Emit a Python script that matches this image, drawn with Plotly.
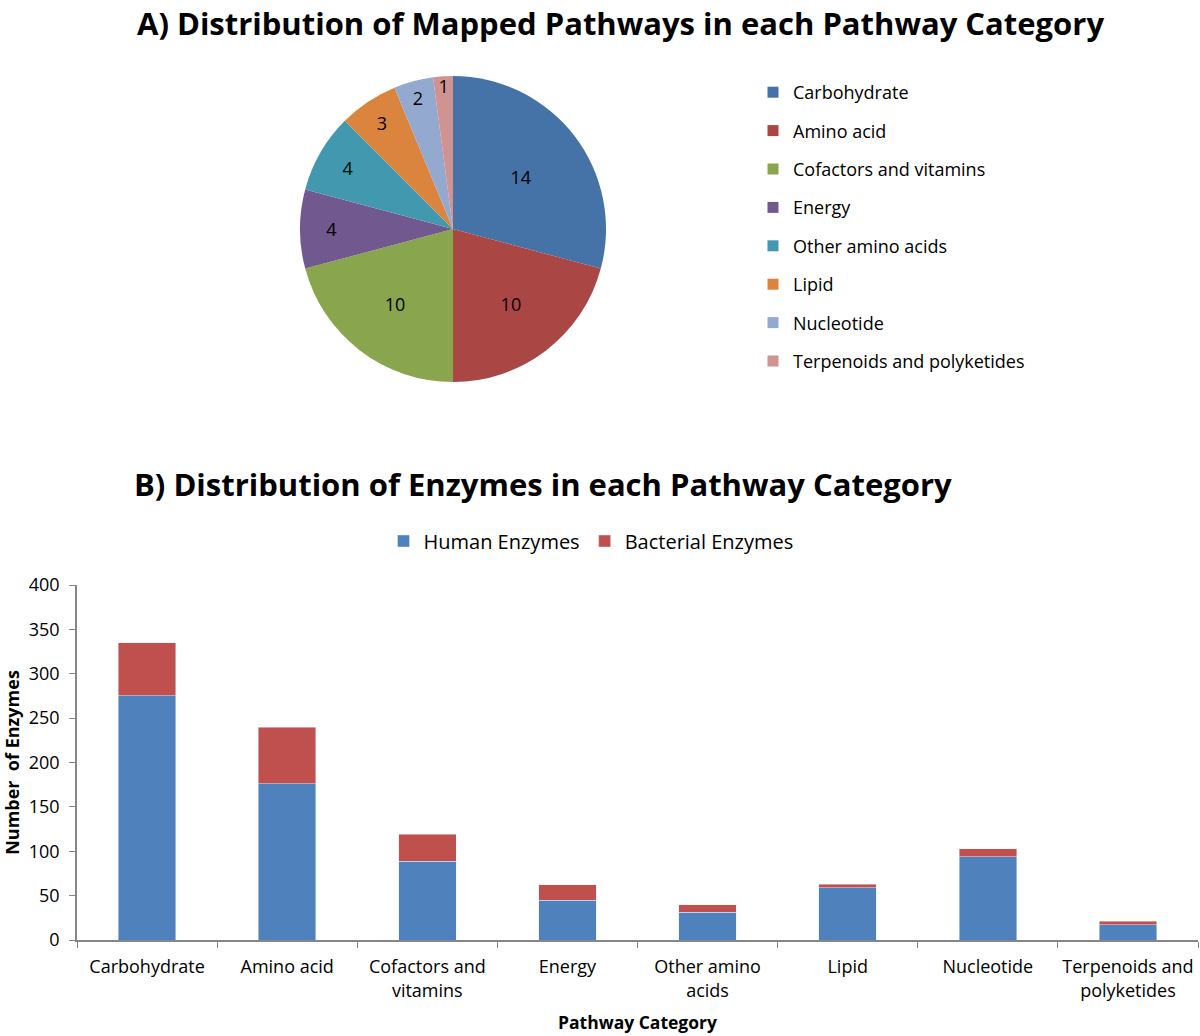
import plotly.graph_objects as go

# data
pie_labels = ["Carbohydrate", "Amino acid", "Cofactors and vitamins", "Energy",
              "Other amino acids", "Lipid", "Nucleotide", "Terpenoids and polyketides"]
pie_values = [14, 10, 10, 4, 4, 3, 2, 1]
pie_colors = ["#4572A7", "#AA4643", "#89A54E", "#71588F",
              "#4198AF", "#DB843D", "#93A9CF", "#D19392"]

bar_categories = ["Carbohydrate", "Amino acid", "Cofactors and<br>vitamins", "Energy",
                  "Other amino<br>acids", "Lipid", "Nucleotide", "Terpenoids and<br>polyketides"]
human_enzymes = [275, 176, 89, 45, 31, 59, 94, 17]
bacterial_enzymes = [60, 64, 30, 17, 9, 4, 9, 4]

FONT = "Open Sans"
W, H = 1200, 1036

fig = go.Figure()

# pie (A)
fig.add_trace(go.Pie(
    labels=pie_labels, values=pie_values, sort=False, direction="clockwise",
    rotation=0, marker=dict(colors=pie_colors, line=dict(width=0)),
    textinfo="value", textposition="inside", insidetextorientation="horizontal",
    textfont=dict(family=FONT, size=18, color="black"),
    domain=dict(x=[(453 - 153) / W, (453 + 153) / W], y=[1 - 382 / H, 1 - 76 / H]),
    showlegend=False, hoverinfo="label+value",
))

# legend entries for pie (separate groups so the spacing can be set)
for lab, col in zip(pie_labels, pie_colors):
    fig.add_trace(go.Scatter(
        x=[None], y=[None], mode="markers", name=lab, legendgroup=lab,
        marker=dict(symbol="square", size=11, color=col), legend="legend",
    ))

# stacked bars (B)
fig.add_trace(go.Bar(x=bar_categories, y=human_enzymes, name="Human Enzymes",
                     marker_color="#4F81BD", legend="legend2"))
fig.add_trace(go.Bar(x=bar_categories, y=bacterial_enzymes, name="Bacterial Enzymes",
                     marker_color="#C0504D", legend="legend2"))

axis_col = "#868686"
fig.update_layout(
    width=W, height=H, barmode="stack", bargap=0.59,
    paper_bgcolor="white", plot_bgcolor="white",
    margin=dict(l=0, r=0, t=0, b=0, autoexpand=False),
    font=dict(family=FONT, size=18, color="black"),
    uniformtext=dict(minsize=18, mode="show"),
    xaxis=dict(type="category", categoryorder="array", categoryarray=bar_categories,
               domain=[77 / W, 1198 / W], showline=True, linecolor=axis_col, linewidth=1.5,
               ticks="outside", tickson="boundaries", tickcolor=axis_col, ticklen=6,
               tickangle=0, showgrid=False, tickfont=dict(size=18), automargin=False,
               ticklabelstandoff=10,
               title=dict(text="<b>Pathway Category</b>", font=dict(size=17.5), standoff=16)),
    yaxis=dict(domain=[1 - 940 / H, 1 - 585 / H], range=[0, 400], dtick=50,
               showline=True, linecolor=axis_col, linewidth=1.5, ticks="outside",
               tickcolor=axis_col, ticklen=6, showgrid=False, zeroline=False,
               tickfont=dict(size=18), automargin=False, ticklabelstandoff=6,
               title=dict(text="<b>Number  of Enzymes</b>", font=dict(size=18), standoff=8)),
    legend=dict(x=753 / W, y=1 - 74 / H, xanchor="left", yanchor="top",
                tracegroupgap=12, font=dict(size=18), itemwidth=30),
    legend2=dict(orientation="h", x=591 / W, y=1 - 541 / H, xanchor="center", yanchor="middle",
                 font=dict(size=20), traceorder="normal"),
    annotations=[
        dict(text="<b>A) Distribution of Mapped Pathways in each Pathway Category</b>",
             x=620 / W, y=1, xref="paper", yref="paper", showarrow=False,
             xanchor="center", yanchor="top", font=dict(size=31)),
        dict(text="<b>B) Distribution of Enzymes in each Pathway Category</b>",
             x=543 / W, y=1 - 484 / H, xref="paper", yref="paper", showarrow=False,
             xanchor="center", yanchor="middle", font=dict(size=31)),
    ],
)

# drop the page's default body margin so the figure sits at the top-left corner
fig.write_html("out.html", config={"displayModeBar": False},
               post_script="document.body.style.margin='0px';")
